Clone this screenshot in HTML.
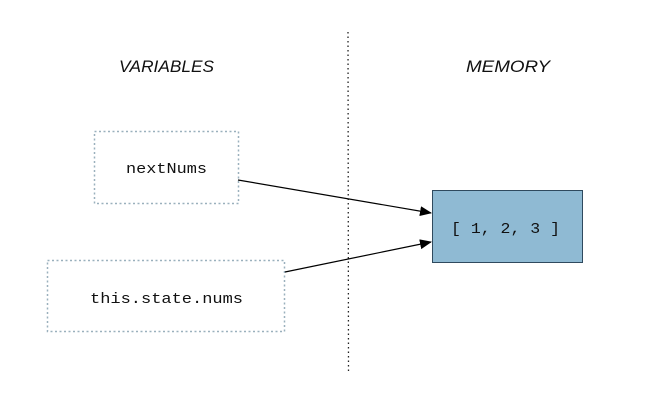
<!DOCTYPE html>
<html><head><meta charset="utf-8"><style>
html,body{margin:0;padding:0;background:#fff;}
svg{display:block;}
</style></head><body>
<svg width="651" height="405" viewBox="0 0 651 405" xmlns="http://www.w3.org/2000/svg">
<defs>
<marker id="a" markerWidth="12" markerHeight="10" refX="11" refY="5" orient="auto" markerUnits="userSpaceOnUse">
<path d="M0,0 L12,5 L0,10 z" fill="#000"/>
</marker>
</defs>
<text x="119" y="72" textLength="95" lengthAdjust="spacingAndGlyphs" font-family="Liberation Sans, sans-serif" font-style="italic" font-size="17" fill="#111">VARIABLES</text>
<text x="466" y="72" textLength="84" lengthAdjust="spacingAndGlyphs" font-family="Liberation Sans, sans-serif" font-style="italic" font-size="17" fill="#111">MEMORY</text>
<line x1="348" y1="32" x2="348.5" y2="374" stroke="#222" stroke-width="1.3" stroke-dasharray="1.5,3"/>
<rect x="94.5" y="131.5" width="144" height="72" fill="none" stroke="#9ab0bd" stroke-width="1.5" stroke-dasharray="2,2.5"/>
<text x="126" y="173" textLength="81" lengthAdjust="spacingAndGlyphs" font-family="Liberation Mono, DejaVu Sans Mono, monospace" font-size="15" fill="#111">nextNums</text>
<rect x="47.5" y="260.5" width="237" height="71" fill="none" stroke="#9ab0bd" stroke-width="1.5" stroke-dasharray="2,2.5"/>
<text x="90" y="303" textLength="153" lengthAdjust="spacingAndGlyphs" font-family="Liberation Mono, DejaVu Sans Mono, monospace" font-size="15" fill="#111">this.state.nums</text>
<rect x="432.5" y="190.5" width="150" height="72" fill="#8fbad3" stroke="#2f4a5e" stroke-width="1"/>
<text x="451" y="233" textLength="109" lengthAdjust="spacingAndGlyphs" font-family="Liberation Mono, DejaVu Sans Mono, monospace" font-size="15" fill="#111" xml:space="preserve">[ 1, 2, 3 ]</text>
<line x1="238" y1="180" x2="431" y2="213" stroke="#000" stroke-width="1.2" marker-end="url(#a)"/>
<line x1="285" y1="272" x2="431" y2="242" stroke="#000" stroke-width="1.2" marker-end="url(#a)"/>
</svg>
</body></html>
